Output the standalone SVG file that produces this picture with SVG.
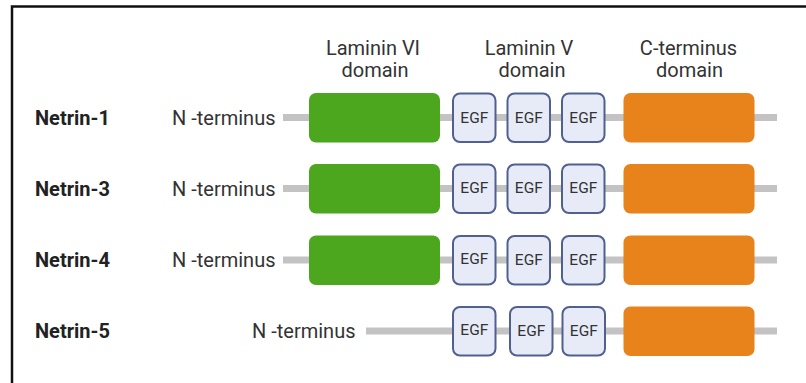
<svg xmlns="http://www.w3.org/2000/svg" width="806" height="383" viewBox="0 0 806 383">
<style>
text{font-family:Roboto,"Liberation Sans",sans-serif;}
.hdr{font-size:20px;fill:#333;text-anchor:middle;}
.name{font-size:20px;font-weight:bold;fill:#222;}
.nterm{font-size:20px;fill:#333;}
.egf-t{font-size:15.5px;fill:#333;text-anchor:middle;}
.lam{fill:#4ca71f;}
.cterm{fill:#e8821a;}
.egf{fill:#e7ebf8;stroke:#51608f;stroke-width:2;}
.chain{stroke:#c3c3c3;stroke-width:7;fill:none;}
</style>
<rect x="0" y="0" width="806" height="383" fill="#fff"/>
<path d="M12 383 V6.5 H806" fill="none" stroke="#111" stroke-width="2.5"/>
<g id="headers">
<text class="hdr" x="373" y="55">Laminin VI</text>
<text class="hdr" x="375" y="77">domain</text>
<text class="hdr" x="529" y="55">Laminin V</text>
<text class="hdr" x="532" y="77">domain</text>
<text class="hdr" x="688.5" y="55">C-terminus</text>
<text class="hdr" x="689.5" y="77">domain</text>
</g>
<g id="connectors">
<line class="chain" x1="283" y1="117.5" x2="777" y2="117.5"/>
<line class="chain" x1="283" y1="188.5" x2="777" y2="188.5"/>
<line class="chain" x1="283" y1="260" x2="777" y2="260"/>
<line class="chain" x1="366" y1="331" x2="777" y2="331"/>
</g>
<g id="netrin-1">
<text class="name" x="35" y="124.5">Netrin-1</text>
<text class="nterm" x="172" y="124.5">N -terminus</text>
<rect class="lam" x="309" y="93" width="131" height="49.5" rx="7"/>
<rect class="egf" x="453" y="93.5" width="42.5" height="48.5" rx="7"/>
<text class="egf-t" x="474.3" y="122.5">EGF</text>
<rect class="egf" x="507.5" y="93.5" width="42.5" height="48.5" rx="7"/>
<text class="egf-t" x="528.8" y="122.5">EGF</text>
<rect class="egf" x="562" y="93.5" width="42.5" height="48.5" rx="7"/>
<text class="egf-t" x="583.3" y="122.5">EGF</text>
<rect class="cterm" x="623.5" y="93" width="131" height="49.5" rx="7"/>
</g>
<g id="netrin-3">
<text class="name" x="35" y="195.5">Netrin-3</text>
<text class="nterm" x="172" y="195.5">N -terminus</text>
<rect class="lam" x="309" y="164" width="131" height="49.5" rx="7"/>
<rect class="egf" x="453" y="164.5" width="42.5" height="48.5" rx="7"/>
<text class="egf-t" x="474.3" y="192.5">EGF</text>
<rect class="egf" x="507.5" y="164.5" width="42.5" height="48.5" rx="7"/>
<text class="egf-t" x="528.8" y="192.5">EGF</text>
<rect class="egf" x="562" y="164.5" width="42.5" height="48.5" rx="7"/>
<text class="egf-t" x="583.3" y="192.5">EGF</text>
<rect class="cterm" x="623.5" y="164" width="131" height="49.5" rx="7"/>
</g>
<g id="netrin-4">
<text class="name" x="35" y="267">Netrin-4</text>
<text class="nterm" x="172" y="267">N -terminus</text>
<rect class="lam" x="309" y="235.5" width="131" height="49.5" rx="7"/>
<rect class="egf" x="453" y="236" width="42.5" height="48.5" rx="7"/>
<text class="egf-t" x="474.3" y="263.5">EGF</text>
<rect class="egf" x="507.5" y="236" width="42.5" height="48.5" rx="7"/>
<text class="egf-t" x="528.8" y="264.5">EGF</text>
<rect class="egf" x="562" y="236" width="42.5" height="48.5" rx="7"/>
<text class="egf-t" x="583.3" y="264.5">EGF</text>
<rect class="cterm" x="623.5" y="235.5" width="131" height="49.5" rx="7"/>
</g>
<g id="netrin-5">
<text class="name" x="35" y="337.5">Netrin-5</text>
<text class="nterm" x="252" y="337.5">N -terminus</text>
<rect class="egf" x="453" y="307" width="42.5" height="48.5" rx="7"/>
<text class="egf-t" x="474.3" y="334.5">EGF</text>
<rect class="egf" x="510" y="307" width="42.5" height="48.5" rx="7"/>
<text class="egf-t" x="531.3" y="336">EGF</text>
<rect class="egf" x="562.5" y="307" width="42.5" height="48.5" rx="7"/>
<text class="egf-t" x="583.8" y="335.5">EGF</text>
<rect class="cterm" x="623.5" y="306.5" width="131" height="49.5" rx="7"/>
</g>
</svg>
